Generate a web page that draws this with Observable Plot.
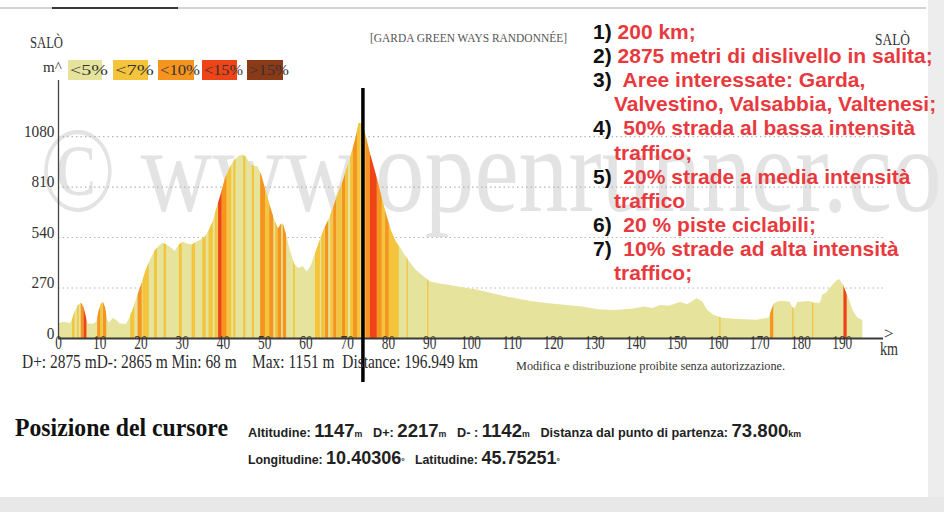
<!DOCTYPE html>
<html><head><meta charset="utf-8">
<script src="https://cdn.jsdelivr.net/npm/d3@7"></script>
<script src="https://cdn.jsdelivr.net/npm/@observablehq/plot@0.6"></script>
<style>
body{margin:0;width:944px;height:512px;position:relative;overflow:hidden;background:#fff;font-family:"Liberation Serif",serif;}
.a{position:absolute;white-space:pre;transform-origin:0 50%;}
#plot{position:absolute;left:0;top:0;}
.lg{position:absolute;top:60px;height:20px;line-height:20px;font-size:15px;color:#333;white-space:pre;}
.red{position:absolute;left:593px;font-family:"Liberation Sans",Arial,sans-serif;font-weight:bold;font-size:21px;line-height:24px;height:24px;color:#e83a3e;white-space:pre;}
.red b{color:#111;}
.cur{font-family:"Liberation Sans",Arial,sans-serif;color:#222;}
.cur .l{font-size:13px;font-weight:bold;}
.cur b{font-size:19px;}
.cur .u{font-size:9px;font-weight:bold;}
</style></head>
<body>
<div class="a" style="left:0;top:7px;width:926px;height:2px;background:#d2d2d2"></div>
<div class="a" style="left:52px;top:7px;width:126px;height:2px;background:#3a3a3a"></div>
<div class="a" style="left:928px;top:0;width:16px;height:512px;background:#ededed"></div>
<div class="a" style="left:0;top:497px;width:944px;height:15px;background:#e8e8e8"></div>
<div class="a" style="left:40px;top:111px;font-size:120px;line-height:120px;color:#e3e3e3;transform:scaleX(0.83);">© www.openrunner.com</div>
<div id="plot"></div>
<div class="a fit" data-w="33" style="left:30px;top:33px;font-size:16px;line-height:20px;color:#333">SALÒ</div>
<div class="a" style="left:43px;top:58px;font-size:15px;line-height:18px;color:#333">m^</div>
<div id="legend"></div>
<div class="a fit" data-w="197" style="left:370px;top:30px;font-size:13px;line-height:16px;color:#555">[GARDA GREEN WAYS RANDONNÉE]</div>
<div class="a fit" data-w="35" style="left:875px;top:30px;font-size:16px;line-height:20px;color:#333">SALÒ</div>
<div class="a fit" data-w="456" style="left:22px;top:352px;font-size:19px;line-height:20px;color:#2a2a2a">D+: 2875 mD-: 2865 m Min: 68 m    Max: 1151 m  Distance: 196.949 km</div>
<div class="a fit" data-w="269" style="left:516px;top:358px;font-size:13px;line-height:16px;color:#333">Modifica e distribuzione proibite senza autorizzazione.</div>
<div class="a" style="left:884px;top:325px;font-size:17px;line-height:18px;color:#333">&gt;</div>
<div class="a fit" data-w="18" style="left:880px;top:340px;font-size:18px;line-height:18px;color:#333">km</div>
<div class="a fit" data-w="213" style="left:15px;top:414px;font-size:26px;line-height:28px;font-weight:bold;color:#111">Posizione del cursore</div>
<div class="a fit cur" data-w="553" style="left:248px;top:420px;line-height:22px"><span class="l">Altitudine: </span><b>1147</b><span class="u">m</span><span class="l">   D+: </span><b>2217</b><span class="u">m</span><span class="l">   D- : </span><b>1142</b><span class="u">m</span><span class="l">   Distanza dal punto di partenza: </span><b>73.800</b><span class="u">km</span></div>
<div class="a fit cur" data-w="312" style="left:248px;top:447px;line-height:22px"><span class="l">Longitudine: </span><b>10.40306</b><span class="u">°</span><span class="l">   Latitudine: </span><b>45.75251</b><span class="u">°</span></div>
<div id="notes"></div>
<script>
// ---- data ----
const km = [0,1,2,3,3.4,4,4.8,5.6,6.2,6.8,7.2,8.5,9.3,9.8,10.4,10.9,11.4,11.9,12.3,13.3,14.2,15,16.5,17.3,18.3,19.3,20.2,21.2,22.3,23.5,24.5,25.4,26.3,27.3,28.3,29.3,30.3,31.3,32.5,33.5,34.5,35.5,36.5,37.5,38.5,39.5,40.5,41.7,42.8,43.8,44.7,45.5,46.5,47.5,48.3,49.3,50.3,51.3,52.3,53.3,54.0,54.5,55.2,56.2,57.3,58.3,59.3,60.3,61.2,62.2,63.3,64.5,65.7,66.7,67.8,69,70,71,72,72.9,73.8,74.6,75.6,76.6,77.6,78.6,79.7,80.8,81.9,82.9,84,85.3,86.7,88.1,89.2,90.2,92.5,95,98,101.5,105,108.7,112,115,119,123.3,127,131.4,135,139.4,142,144,146,148,150.8,152.5,154.8,156.2,157.4,158.8,161,165,169.3,172.3,172.9,173.5,174.5,176,177.4,178,178.6,179.2,182,183,184.7,185.3,186.3,187.5,188.6,189.3,190.2,191.1,192,192.7,193.8,195];
const elevation = [78,86,84,80,100,140,175,188,165,110,78,76,90,140,185,193,165,100,82,108,95,78,75,110,165,235,290,360,420,470,495,510,500,485,465,500,515,505,500,515,525,540,575,625,700,775,855,915,955,975,980,970,935,920,920,870,790,710,640,585,610,612,560,470,395,375,385,355,385,445,515,585,640,700,770,840,910,980,1060,1151,1147,1080,990,910,830,740,650,570,515,485,445,405,365,340,320,302,292,283,272,260,240,222,208,196,186,177,168,152,150,158,168,160,176,172,192,180,212,195,150,125,108,102,97,110,150,185,196,198,194,165,160,192,198,190,188,232,245,280,305,315,290,240,190,145,110,96];
const stripeFrom = [3.4,4.6,5.5,6.2,9.5,10.2,10.9,17.5,19.3,20.5,23.3,25.6,29.3,32.4,35.0,36.5,38.0,38.8,39.7,40.9,42.5,44.9,47.0,49.0,50.2,51.2,52.6,53.2,54.5,57.0,62.3,63.8,64.7,66.0,66.7,67.6,68.8,69.6,70.8,71.5,72.5,73.6,74.5,75.6,77.3,78.5,79.3,80.2,84.5,89.5,160.3,172.6,178.0,182.8,190.4];
const stripeTo   = [4.0,5.0,6.2,6.9,10.2,10.8,11.7,18.5,20.3,22.0,24.0,26.2,30.0,33.2,35.8,37.5,38.7,39.7,40.9,42.0,43.0,45.4,47.5,50.2,51.2,52.2,53.2,54.1,55.3,57.4,63.5,64.6,65.5,66.6,67.5,68.7,69.6,70.3,71.5,72.5,73.3,74.4,75.6,77.3,78.5,79.3,80.2,82.6,84.8,89.8,160.6,173.4,178.3,183.1,191.2];
const stripeGrade = ["<7%","<7%","<10%","<15%","<10%","<7%","<10%","<7%","<10%","<7%","<7%","<7%","<7%","<7%","<7%","<7%","<7%","<15%","<10%","<7%","<7%","<7%","<7%","<10%","<7%","<10%","<7%","<10%","<10%","<7%","<7%","<7%","<10%","<7%","<10%","<7%","<10%","<7%","<7%","<10%","<7%","<10%","<10%","<15%","<10%","<7%","<10%","<7%","<7%","<7%","<7%","<10%","<7%","<7%","<15%"];
const gradeLabels = ["<5%","<7%","<10%","<15%",">15%"];
const gradeColors = ["#e5e39c","#f3c43c","#f5941f","#ee4418","#8b3a17"];
const xTicks = [0,10,20,30,40,50,60,70,80,90,100,110,120,130,140,150,160,170,180,190];
const yTicks = [0,270,540,810,1080];
const cursorKm = 73.8;

const profile = km.map((k,i)=>({km:k, elev:elevation[i]}));
const stripes = stripeFrom.map((a,i)=>({a, b:stripeTo[i], grade:stripeGrade[i]}));
const topElev = d3.max(elevation);

const chart = Plot.plot({
  width:944, height:400,
  marginTop:62, marginBottom:62, marginLeft:58, marginRight:61,
  x:{domain:[0,200], axis:null},
  y:{domain:[0,1476], axis:null},
  color:{domain:gradeLabels, range:gradeColors},
  style:{background:"transparent", fontFamily:"Liberation Serif, serif", color:"#333", overflow:"visible"},
  marks:[
    Plot.ruleY(yTicks.filter(d=>d>0), {stroke:"#b5b5b5", strokeDasharray:"1.5,3", strokeWidth:1.2}),
    Plot.areaY(profile, {x:"km", y:"elev", fill:gradeColors[0]}),
    Plot.rect(stripes, {x1:"a", x2:"b", y1:0, y2:topElev, fill:"grade"}),
    Plot.ruleY([0], {stroke:"#3a3a3a", strokeWidth:2}),
    Plot.ruleX([0], {stroke:"#444", strokeWidth:1.3, insetTop:18}),
    Plot.text(yTicks, {y:d=>d, frameAnchor:"left", dx:-4, dy:-5, textAnchor:"end", fontSize:17, fill:"#333", text:d=>String(d)}),
    Plot.text(xTicks, {x:d=>d, frameAnchor:"bottom", dy:10, fontSize:19, fill:"#333", text:d=>String(d)}),
    Plot.ruleX([cursorKm], {stroke:"#000", strokeWidth:3.5, insetTop:26, insetBottom:-44})
  ]
});
document.getElementById("plot").appendChild(chart);

// clip the grade stripes to the profile shape
const ns = "http://www.w3.org/2000/svg";
const svg = chart.tagName.toLowerCase()==="svg" ? chart : chart.querySelector("svg");
const areaPath = svg.querySelector('g[aria-label="area"] path');
const rectG = svg.querySelector('g[aria-label="rect"]');
if (areaPath && rectG) {
  const defs = document.createElementNS(ns,"defs");
  const cp = document.createElementNS(ns,"clipPath");
  cp.setAttribute("id","profileClip");
  const p = areaPath.cloneNode(false);
  const t = areaPath.parentNode.getAttribute("transform");
  if (t) p.setAttribute("transform", t + " " + (areaPath.getAttribute("transform")||""));
  cp.appendChild(p); defs.appendChild(cp); svg.insertBefore(defs, svg.firstChild);
  const wrap = document.createElementNS(ns,"g");
  wrap.setAttribute("clip-path","url(#profileClip)");
  rectG.parentNode.insertBefore(wrap, rectG); wrap.appendChild(rectG);
}
// horizontally condensed tick labels as in the screenshot
const textGroups = svg.querySelectorAll('g[aria-label="text"]');
[0.9, 0.7].forEach((s,gi)=>{
  const g = textGroups[gi]; if (!g) return;
  g.querySelectorAll("text").forEach(el=>{
    const tr = el.getAttribute("transform");
    if (tr) el.setAttribute("transform", tr + ` scale(${s},1)`);
    else {
      const x = +el.getAttribute("x")||0, y = +el.getAttribute("y")||0;
      el.removeAttribute("x"); el.removeAttribute("y");
      el.setAttribute("transform", `translate(${x},${y}) scale(${s},1)`);
    }
  });
});

// legend
const legendLeft = [68,113,158,202,247];
const legendW = [34,35,36,35,36];
const lg = document.getElementById("legend");
gradeLabels.forEach((g,i)=>{
  const box = document.createElement("div");
  box.className="lg";
  box.style.left = legendLeft[i]+"px"; box.style.width = legendW[i]+"px";
  box.style.background = gradeColors[i];
  lg.appendChild(box);
  const tx = document.createElement("div");
  tx.className="lg a fit"; tx.dataset.w = legendW[i]+4;
  tx.style.left = (legendLeft[i]+2)+"px"; tx.style.top="60px";
  tx.textContent = g;
  lg.appendChild(tx);
});

// notes (red list)
const noteNum = ["1)","2)","3)","","4)","","5)","","6)","7)",""];
const noteText = [" 200 km;"," 2875 metri di dislivello in salita;","  Aree interessate: Garda,","Valvestino, Valsabbia, Valtenesi;","  50% strada al bassa intensità","traffico;","  20% strade a media intensità","traffico","  20 % piste ciclabili;","  10% strade ad alta intensità","traffico;"];
const notes = document.getElementById("notes");
noteText.forEach((t,i)=>{
  const d = document.createElement("div");
  d.className = "red";
  d.style.top = (20 + i*24.1)+"px";
  if (noteNum[i]) { const b=document.createElement("b"); b.textContent=noteNum[i]; d.appendChild(b); }
  else d.style.left = "614px";
  d.appendChild(document.createTextNode(t));
  notes.appendChild(d);
});

// fit widths of condensed texts
document.querySelectorAll(".fit").forEach(el=>{
  const w = el.getBoundingClientRect().width;
  const target = +el.dataset.w;
  if (w>0 && target) el.style.transform = `scaleX(${target/w})`;
});
</script>
</body></html>
